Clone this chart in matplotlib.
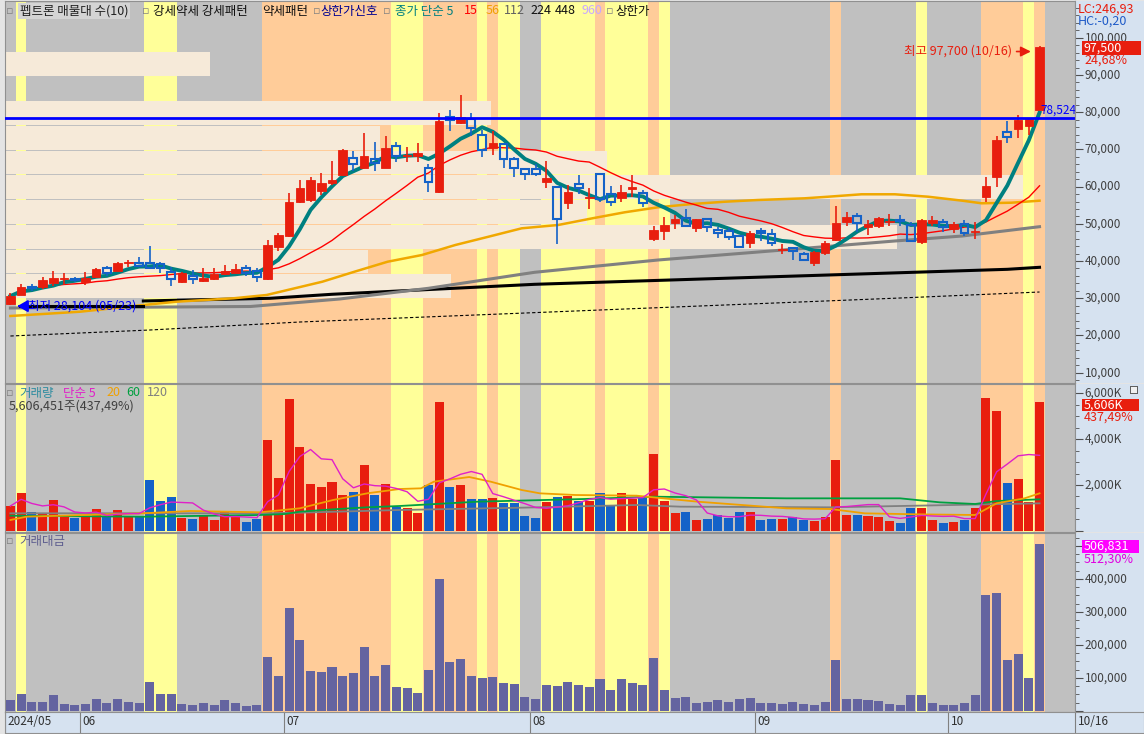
import matplotlib
matplotlib.use('Agg')
import matplotlib.pyplot as plt
import matplotlib.transforms as mtransforms
from matplotlib.patches import Rectangle
from matplotlib.ticker import MultipleLocator
import pandas as pd

plt.rcParams['font.family'] = ['Noto Sans CJK KR', 'DejaVu Sans']

W, H = 1144, 734

# trading days 2024-05-23 .. 2024-10-16 (KRX holidays removed)
dates = pd.bdate_range('2024-05-23', '2024-10-16', freq='C',
                       holidays=['2024-06-06', '2024-08-15', '2024-09-16', '2024-09-17',
                                 '2024-09-18', '2024-10-01', '2024-10-03', '2024-10-09'])

opens = [28500, 30900, 33100, 33100, 34000, 35100, 35100, 34500, 35600, 38200,
         37200, 39500, 39400, 39400, 39300, 37100, 34300, 36000, 34700, 35300,
         36500, 36900, 38200, 37400, 35200, 43900, 46800, 56000, 56400, 58800,
         61100, 63100, 67600, 65100, 67300, 65100, 71000, 68100, 68200, 64900,
         58600, 78700, 77000, 78300, 73900, 70500, 71400, 67400, 64600, 64600,
         61300, 59800, 55500, 60600, 56900, 63300, 57900, 56900, 59400, 58200,
         45800, 48200, 50300, 51500, 49000, 51200, 48300, 48100, 46700, 44800,
         48100, 47200, 43000, 43400, 41900, 39600, 42200, 45700, 50600, 52100,
         49100, 49300, 50600, 50800, 49700, 45000, 50200, 50600, 48500, 49900,
         47700, 57300, 62700, 74600, 75400, 76300, 80500]
highs = [31500, 33750, 33750, 35600, 37400, 36900, 35600, 37100, 38000, 38700,
         39800, 40300, 41200, 44100, 39800, 38500, 37000, 37500, 38200, 38200,
         38900, 39300, 38900, 38200, 45700, 47500, 58200, 61800, 62700, 63600,
         66800, 70000, 69600, 74500, 72000, 73600, 72100, 70700, 71600, 66200,
         79700, 80600, 84600, 79900, 75200, 74900, 71500, 68000, 65100, 66200,
         66900, 59900, 60400, 63100, 59500, 63700, 60200, 60400, 63100, 59000,
         49400, 51900, 52400, 53900, 51200, 51500, 49100, 48800, 46900, 48100,
         48800, 48500, 44600, 43600, 42300, 42700, 45300, 54900, 53300, 52900,
         50900, 51800, 52700, 52300, 50600, 51300, 52100, 51300, 50400, 50900,
         50600, 62700, 73600, 77500, 79300, 78500, 97700]
lows = [28104, 30800, 31900, 32500, 33400, 33600, 34300, 33600, 35500, 36000,
        37000, 38500, 38300, 37800, 36700, 33400, 34000, 33700, 34400, 35000,
        36200, 36700, 35900, 34300, 34900, 42600, 46500, 55500, 55800, 57700,
        60500, 62800, 64200, 64900, 64200, 64900, 66700, 66500, 66700, 58500,
        58300, 75000, 76800, 73600, 68000, 68400, 64900, 62700, 61800, 62900,
        59600, 44500, 53900, 58000, 53900, 55900, 54900, 55900, 57300, 54600,
        45400, 45700, 48700, 49100, 47800, 47900, 46300, 45600, 43700, 43600,
        45500, 44000, 42000, 40300, 39900, 38700, 41700, 45400, 49400, 47900,
        46900, 49000, 49500, 49400, 45300, 44600, 49400, 47900, 47600, 46800,
        45800, 55900, 59800, 71600, 73000, 73800, 80500]
closes = [30600, 33100, 32850, 34900, 35500, 35300, 34900, 35400, 37800, 36700,
          39600, 39700, 38700, 38100, 38200, 35100, 36700, 35100, 35500, 36400,
          37400, 37800, 36800, 35800, 44300, 47000, 55900, 59700, 61800, 61100,
          61800, 69800, 66200, 68200, 66300, 70400, 68300, 68300, 68900, 61200,
          77700, 77900, 78600, 75800, 69800, 71600, 67400, 65100, 63300, 63300,
          62200, 51200, 58500, 59500, 57100, 56800, 56000, 58600, 59900, 55500,
          48300, 49700, 51300, 49500, 51200, 49100, 47500, 46400, 43900, 47500,
          47500, 44800, 43300, 42700, 40300, 42500, 44800, 50300, 51800, 50300,
          49900, 51500, 50800, 50700, 45500, 51000, 51000, 49200, 50000, 47500,
          47900, 60200, 72500, 73400, 77900, 78200, 97500]

# volume in thousand shares
volumes = [1087, 1665, 840, 770, 1348, 622, 552, 622, 957, 622,
           913, 665, 622, 2217, 1304, 1478, 578, 522, 652, 478,
           870, 622, 404, 522, 3957, 2317, 5739, 3665, 2043, 1926,
           2145, 1565, 1709, 2870, 1565, 2043, 1058, 1000, 797, 2000,
           5622, 1913, 2000, 1391, 1391, 1435, 1232, 1232, 652, 565,
           1261, 1478, 1521, 1304, 1304, 1652, 1130, 1652, 1406, 1420,
           3347, 1304, 782, 826, 478, 522, 696, 580, 826, 826,
           478, 522, 522, 609, 493, 435, 609, 3086, 696, 696,
           652, 609, 435, 348, 1000, 1000, 478, 348, 391, 478,
           1000, 5782, 5216, 2087, 2260, 1282, 5606]

# trading value in million KRW
amounts = [32000, 53000, 28000, 26000, 47000, 22000, 19000, 22000, 35000, 23000,
           35000, 26000, 24000, 89000, 50000, 53000, 21000, 19000, 23000, 17000,
           32000, 23000, 15000, 19000, 164000, 105000, 312000, 214000, 122000, 117000,
           134000, 105000, 115000, 195000, 106000, 140000, 74000, 69000, 55000, 124000,
           400000, 149000, 158000, 107000, 99000, 103000, 84000, 81000, 41000, 36000,
           79000, 77000, 87000, 78000, 74000, 97000, 64000, 96000, 84000, 80000,
           160000, 64000, 40000, 42000, 24000, 26000, 33000, 27000, 37000, 38000,
           23000, 24000, 22000, 26000, 20000, 18000, 26000, 155000, 36000, 35000,
           32000, 31000, 22000, 18000, 48000, 49000, 24000, 17000, 19000, 23000,
           48000, 350000, 358000, 155000, 173000, 98900, 506831]

# background state per candle: g=grey, y=yellow, o=orange
bg_state = ("gy" "ggggggggggg" "yyy" "gggggggg" "oooooooooooo" "yyy" "ooooo" "y" "o"
            "yy" "gg" "yyyyy" "o" "yyyy" "o" "y" "ggggggggggggggg" "o" "ggggggg"
            "y" "ggggg" "oooo" "y" "o")

# long moving averages: (candle index, value)
ma56_pts = [(0, 25235), (6.5, 26390), (12.4, 28190), (15.5, 29080), (20.8, 29990),
            (23.9, 30880), (29.1, 34450), (32.1, 37140), (35.2, 39830), (38.4, 41630),
            (41.5, 44310), (44.6, 46540), (47.7, 48800), (51.1, 49690), (54.3, 51490),
            (57.3, 53100), (60.4, 54440), (63.6, 55330), (66.7, 55950), (69.7, 56400),
            (74.1, 56860), (76.3, 57290), (79.4, 57940), (82.5, 57940), (85.6, 57290),
            (88.8, 56220), (90.6, 55520), (93.4, 55680), (96, 56220)]
ma112_pts = [(0, 27385), (22.4, 27790), (30.7, 29800), (39, 32680), (48.9, 36980),
             (60.4, 40280), (74.1, 43430), (82.5, 45390), (88.8, 46730), (96, 49230)]
ma224_pts = [(12.4, 29270), (24.2, 29990), (30, 31070), (48.9, 33750), (93, 37780),
             (96, 38320)]
ma448_pts = [(0, 19860), (13, 21470), (27, 23620), (45.7, 25770), (64.3, 27920),
             (83, 30070), (96, 31680)]

vma20_pts = [(0, 478), (1.5, 622), (12.4, 770), (16.8, 870), (23.3, 813), (27, 987),
             (30.1, 1348), (33.3, 1639), (36.3, 1826), (38.3, 1855), (39.5, 2145),
             (42.8, 2347), (44.8, 2145), (47.7, 1782), (49.4, 1637), (52.7, 1565),
             (58.4, 1536), (64.1, 1275), (72.4, 985), (76.5, 956), (79.7, 768),
             (84.7, 724), (90, 696), (92, 1203), (94.6, 1420), (96, 1637)]
vma60_pts = [(0, 665), (12.4, 622), (23.3, 696), (25.6, 739), (27, 839), (30.1, 943),
             (33.3, 1030), (36.3, 1087), (43.6, 1275), (53.5, 1391), (60, 1492),
             (72.4, 1420), (83, 1420), (86.7, 1246), (90, 1174), (92, 1304), (96, 1377)]
vma120_pts = [(0, 770), (23.3, 770), (27, 796), (36.3, 913), (47.7, 1014),
              (58.4, 1130), (62.5, 1058), (76.5, 1029), (96, 1203)]

# volume profile (매물대): 10 price bands, relative volume
prof_lo, prof_hi = 29965, 96300
prof_vol = [43.8, 35.6, 87.6, 57.1, 100, 59.1, 36.8, 47.7, 0, 20.1]

line_price = 78524

RED = '#E81E0E'
BLUE = '#1462C8'
GREY_BG = '#C0C0C0'
STRIPE = {'y': '#FFFF99', 'o': '#FFCC99'}
CREAM = '#F6EAD9'
AXBG = '#D6E2F0'
EDGE = '#909090'

fig = plt.figure(figsize=(W / 100, H / 100), dpi=100, facecolor='#E4E4E4')


def px_ax(x0, y0, x1, y1):
    return fig.add_axes([x0 / W, 1 - y1 / H, (x1 - x0) / W, (y1 - y0) / H])


def ftext(x, y, s, **kw):
    kw.setdefault('va', 'center')
    kw.setdefault('fontsize', 9)
    fig.text(x / W, 1 - y / H, s, **kw)


def frect(x0, y0, x1, y1, color, z=5):
    fig.add_artist(Rectangle((x0 / W, 1 - y1 / H), (x1 - x0) / W, (y1 - y0) / H,
                             transform=fig.transFigure, facecolor=color,
                             edgecolor='none', zorder=z))


n = len(closes)
idx = list(range(n))
XL = (-0.504, 99.31)


def stripes(ax):
    ax.set_facecolor(GREY_BG)
    for i, s in enumerate(bg_state):
        if s in STRIPE:
            ax.axvspan(i - 0.5, i + 0.5, color=STRIPE[s], lw=0, zorder=0,
                       antialiased=False)
    ax.set_xlim(*XL)
    ax.set_xticks([])
    ax.set_yticks([])
    for sp in ax.spines.values():
        sp.set_color(EDGE)


def right_axis(y0, y1, ylim, major, minor, fmt, start=None, skip=()):
    rax = px_ax(1075, y0, 1144, y1)
    rax.set_facecolor(AXBG)
    rax.set_ylim(*ylim)
    rax.set_xlim(0, 1)
    rax.set_xticks([])
    for k in ['top', 'right', 'bottom']:
        rax.spines[k].set_visible(False)
    rax.spines['left'].set_color(EDGE)
    rax.yaxis.set_major_locator(MultipleLocator(major))
    rax.yaxis.set_minor_locator(MultipleLocator(minor))
    rax.tick_params(axis='y', which='major', direction='in', length=6, color='#505050',
                    labelleft=False)
    rax.tick_params(axis='y', which='minor', direction='in', length=3, color='#505050')
    tr = mtransforms.blended_transform_factory(rax.transAxes, rax.transData)
    v = major if start is None else start
    while v < ylim[1]:
        if v not in skip:
            rax.text(0.14, v, fmt(v), transform=tr, va='center', ha='left',
                     fontsize=8.5, color='#404040')
        v += major
    return rax


# ---------------- price panel ----------------
PY = (7232, 109876)
ax = px_ax(5, 1, 1075, 383)
stripes(ax)
ax.set_ylim(*PY)

band_h = (prof_hi - prof_lo) / len(prof_vol)
vmax = max(prof_vol)
for k, v in enumerate(prof_vol):
    if v > 0:
        ax.barh(prof_lo + band_h * (k + 0.5), v / vmax * 95.0, left=-0.5,
                height=band_h - 270, color=CREAM, lw=0, zorder=1)

s_close = pd.Series(closes)
ma5 = s_close.rolling(5, min_periods=1).mean()
ma15 = s_close.rolling(15, min_periods=1).mean()


def pts_line(a, pts, **kw):
    a.plot([p[0] for p in pts], [p[1] for p in pts], **kw)


pts_line(ax, ma448_pts, color='black', lw=0.8, ls=(0, (3, 2)), zorder=2)
pts_line(ax, ma224_pts, color='black', lw=2.2, zorder=2)
pts_line(ax, ma112_pts, color='#808080', lw=2.2, zorder=2)
pts_line(ax, ma56_pts, color='#F0A800', lw=1.8, zorder=2)
ax.plot(idx, ma15, color='#FF0000', lw=1, zorder=2)
ax.plot(idx, ma5, color='#008080', lw=2.8, zorder=2)

for i, (o, h, l, c) in enumerate(zip(opens, highs, lows, closes)):
    top, bot = max(o, c), min(o, c)
    if c >= o:
        ax.vlines(i, l, h, color=RED, lw=1.2, zorder=4)
        ax.add_patch(Rectangle((i - 0.4, bot), 0.8, max(top - bot, 280),
                               facecolor=RED, edgecolor=RED, lw=0.6, zorder=5))
    else:
        ax.vlines(i, top, h, color=BLUE, lw=1.2, zorder=4)
        ax.vlines(i, l, bot, color=BLUE, lw=1.2, zorder=4)
        ax.add_patch(Rectangle((i - 0.37, bot), 0.74, max(top - bot, 280),
                               facecolor='none', edgecolor=BLUE, lw=1.5, zorder=5))

ax.axhline(line_price, color='#0000FF', lw=2, zorder=7)
ax.text(n - 0.95, line_price + 250, f'{line_price:,}', color='#0000FF', fontsize=8.5,
        ha='left', va='bottom', zorder=8)

imax = highs.index(max(highs))
imin = lows.index(min(lows))
hi_date = dates[imax].strftime('%m/%d')
lo_date = dates[imin].strftime('%m/%d')
ax.text(imax - 2.6, 96300, f'최고 {max(highs):,} ({hi_date})', color=RED, fontsize=9,
        ha='right', va='center', zorder=8)
ax.annotate('', xy=(imax - 0.55, 96300), xytext=(imax - 2.4, 96300),
            arrowprops=dict(arrowstyle='-|>,head_width=0.3,head_length=0.6',
                            color=RED, lw=1.2), zorder=8)
ax.plot([imin + 0.9, 12.4], [27900, 27900], color='black', lw=2.2, zorder=6)
ax.annotate('', xy=(imin + 0.4, 27900), xytext=(imin + 1.2, 27900),
            arrowprops=dict(arrowstyle='-|>,head_width=0.35,head_length=0.6',
                            color='#0000FF', lw=1.5), zorder=8)
ax.text(imin + 1.6, 27900, f'최저 {min(lows):,} ({lo_date})', color='#0000FF',
        fontsize=9, ha='left', va='center', zorder=8)

# ---------------- volume panel ----------------
VY = (-22, 6392)
vax = px_ax(5, 384, 1075, 531.5)
stripes(vax)
vax.set_ylim(*VY)
vcols = [RED if c >= o else BLUE for o, c in zip(opens, closes)]
vax.bar(idx, volumes, width=0.84, color=vcols, lw=0, zorder=3)
vma5 = pd.Series(volumes).rolling(5, min_periods=1).mean()
pts_line(vax, vma120_pts, color='#808080', lw=1.3, zorder=4)
pts_line(vax, vma60_pts, color='#00A040', lw=1.3, zorder=4)
pts_line(vax, vma20_pts, color='#F0A000', lw=1.3, zorder=4)
vax.plot(idx, vma5, color='#E020C8', lw=1, zorder=4)

# ---------------- trading value panel ----------------
AY = (-1515, 539340)
aax = px_ax(5, 533, 1075, 711.5)
stripes(aax)
aax.set_ylim(*AY)
aax.bar(idx, amounts, width=0.84, color='#6464A0', lw=0, zorder=3)

# ---------------- right axes ----------------
right_axis(1, 383, PY, 10000, 2000, lambda v: f'{int(v):,}')
right_axis(384, 531.5, VY, 2000, 500, lambda v: f'{int(v):,}K', start=2000)
right_axis(533, 711.5, AY, 100000, 25000, lambda v: f'{int(v):,}', start=100000)

# ---------------- date axis ----------------
dax = px_ax(5, 712, 1144, 733)
dax.set_facecolor(AXBG)
dax.set_xlim(XL[0], (1144 - 10.4) / 10.72)
dax.set_ylim(0, 1)
dax.set_xticks([])
dax.set_yticks([])
for sp in dax.spines.values():
    sp.set_color(EDGE)
months = pd.Series(dates.month)
starts = [0] + [i for i in range(1, n) if months[i] != months[i - 1]]
for k, i in enumerate(starts):
    lab = dates[i].strftime('%Y/%m') if k == 0 else dates[i].strftime('%m')
    dax.axvline(i - 0.5, color='#808080', lw=0.8)
    dax.text(i - 0.3, 0.55, lab, fontsize=8.5, color='#303030', va='center', ha='left')
dax.axvline(XL[1], color='#808080', lw=0.8)
dax.text(XL[1] + 0.3, 0.55, dates[-1].strftime('%m/%d'), fontsize=8.5, color='#303030',
         va='center', ha='left')

# ---------------- texts ----------------
sq = dict(fontsize=8, color='#808080', family=['DejaVu Sans'])
ftext(6, 11, '▫', **sq)
ftext(20, 11, '펩트론 매물대 수(10)', color='#202020',
      bbox=dict(facecolor='#D4D4D4', edgecolor='none', pad=1.2))
ftext(142, 11, '▫', **sq)
ftext(153, 11, '강세약세 강세패턴', color='#101010')
ftext(262, 11, '약세패턴', color='#101010')
ftext(313, 11, '▫', **sq)
ftext(320, 11, '상한가신호', color='#000090')
ftext(383, 11, '▫', **sq)
ftext(395, 11, '종가 단순 5', color='#008080')
ftext(464, 11, '15', color='#FF0000')
ftext(486, 11, '56', color='#F0A000')
ftext(504, 11, '112', color='#606060')
ftext(530, 11, '224', color='#101010')
ftext(555, 11, '448', color='#101010')
ftext(581, 11, '960', color='#C8A8FF')
ftext(606, 11, '▫', **sq)
ftext(615, 11, '상한가', color='#101010')

ftext(6, 393, '▫', **sq)
ftext(19, 393, '거래량', color='#2E8CA0')
ftext(63, 393, '단순 5', color='#E020C8')
ftext(106, 393, '20', color='#F0A000')
ftext(126, 393, '60', color='#00A040')
ftext(147, 393, '120', color='#808080')
vol_last = volumes[-1] * 1000 + 451
ftext(9, 406, f'{vol_last:,}주(437,49%)', color='#404040')

ftext(6, 541, '▫', **sq)
ftext(19, 541, '거래대금', color='#606090')

ftext(1078, 9, 'LC:246,93', color='#E81E0E')
ftext(1078, 21, 'HC:-0,20', color='#1E5AC8')
frect(1082, 41, 1141, 55, '#E81E0E')
ftext(1084, 48, f'{closes[-1]:,}', color='white', zorder=6)
ftext(1084, 60, '24,68%', color='#E81E0E', zorder=6)

frect(1082, 399, 1139, 411, '#E81E0E')
ftext(1084, 405, f'{int(round(vol_last / 1000)):,}K', color='white', zorder=6)
ftext(1084, 417, '437,49%', color='#E81E0E', zorder=6)
frect(1130, 386, 1138, 394, '#606060', z=6)
frect(1131, 387, 1137, 393, '#F0F0F0', z=7)

frect(1082, 540, 1139, 553, '#FF00FF')
ftext(1084, 546.5, f'{amounts[-1]:,}', color='white', zorder=6)
ftext(1084, 559, '512,30%', color='#E000E0', zorder=6)

fig.savefig('out.png', dpi=100, facecolor=fig.get_facecolor())
